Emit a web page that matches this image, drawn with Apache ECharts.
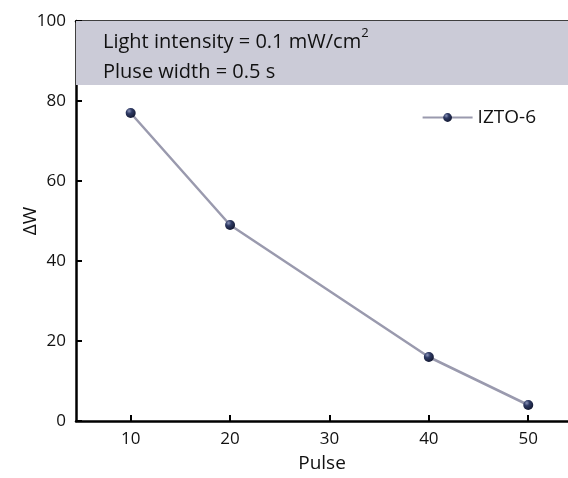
<!DOCTYPE html>
<html><head><meta charset="utf-8">
<script src="https://cdn.jsdelivr.net/npm/echarts@6/dist/echarts.min.js"></script>
<style>html,body{margin:0;padding:0;background:#fff}#c{width:568px;height:478px}</style>
</head><body><div id="c"></div>
<script>
const pulses = [10, 20, 40, 50];
const deltaW = [77, 49, 16, 4];
const xTicks = [10, 20, 30, 40, 50];
const yTicks = [0, 20, 40, 60, 80, 100];
const seriesName = 'IZTO-6';
const boxRange = [84, 100];
const boxLines = ['Light intensity = 0.1 mW/cm{sup|2}', 'Pluse width = 0.5 s'];

const font = '"Open Sans", "Noto Sans", sans-serif';
const chart = echarts.init(document.getElementById('c'), null, {renderer: 'canvas'});
const axisLine = {show: true, lineStyle: {color: '#000', width: 2.5}};
const xMin = 4.5, xMax = 54;
chart.setOption({
  animation: false,
  grid: {left: 76, right: 0, top: 21, bottom: 57, containLabel: false, outerBoundsMode: 'none'},
  legend: {
    data: [seriesName], right: 27, top: 103, itemWidth: 50, itemHeight: 11, itemGap: 6,
    textStyle: {fontFamily: font, fontSize: 19, color: '#111'}
  },
  graphic: [{
    type: 'text', left: 103, top: 27, z: 100,
    style: {
      text: boxLines[0] + '\n' + boxLines[1], fontFamily: font, fontSize: 20, lineHeight: 30, fill: '#111',
      rich: {sup: {fontFamily: font, fontSize: 13, verticalAlign: 'top', padding: [0,0,10,0], fill: '#111'}}
    }
  }],
  xAxis: [{
    type: 'value', min: xMin, max: xMax,
    name: 'Pulse', nameLocation: 'middle', nameGap: 33, nameMoveOverlap: false,
    nameTextStyle: {fontFamily: font, fontSize: 19, color: '#111'},
    axisLine: axisLine,
    axisTick: {show: true, inside: true, length: 6, lineStyle: {color: '#000', width: 2}, customValues: xTicks},
    axisLabel: {fontFamily: font, fontSize: 17, color: '#111', margin: 10, customValues: xTicks},
    splitLine: {show: false}
  }, {
    type: 'value', position: 'top', min: xMin, max: xMax,
    axisLine: axisLine, axisTick: {show: false}, axisLabel: {show: false}, splitLine: {show: false}
  }],
  yAxis: {
    type: 'value', min: 0, max: 100, interval: 20,
    name: 'ΔW', nameLocation: 'middle', nameGap: 36, nameRotate: 90, nameMoveOverlap: false,
    nameTextStyle: {fontFamily: font, fontSize: 19, color: '#111'},
    axisLine: axisLine,
    axisTick: {show: true, inside: true, length: 6, lineStyle: {color: '#000', width: 2}},
    axisLabel: {fontFamily: font, fontSize: 17, color: '#111', margin: 10},
    splitLine: {show: false}
  },
  series: [{
    name: seriesName, type: 'line',
    data: pulses.map((p, i) => [p, deltaW[i]]),
    symbol: 'circle', symbolSize: 10,
    lineStyle: {color: '#9a9aae', width: 2.5},
    itemStyle: {
      color: new echarts.graphic.RadialGradient(0.35, 0.3, 0.7, [
        {offset: 0, color: '#8a93b8'}, {offset: 0.4, color: '#2e3a64'}, {offset: 1, color: '#151b35'}
      ]),
      borderWidth: 0
    },
    z: 5,
    markArea: {
      silent: true,
      itemStyle: {color: '#cbcbd7'},
      data: [[{yAxis: boxRange[0], xAxis: xMin}, {yAxis: boxRange[1], xAxis: xMax}]]
    }
  }]
});
</script></body></html>
